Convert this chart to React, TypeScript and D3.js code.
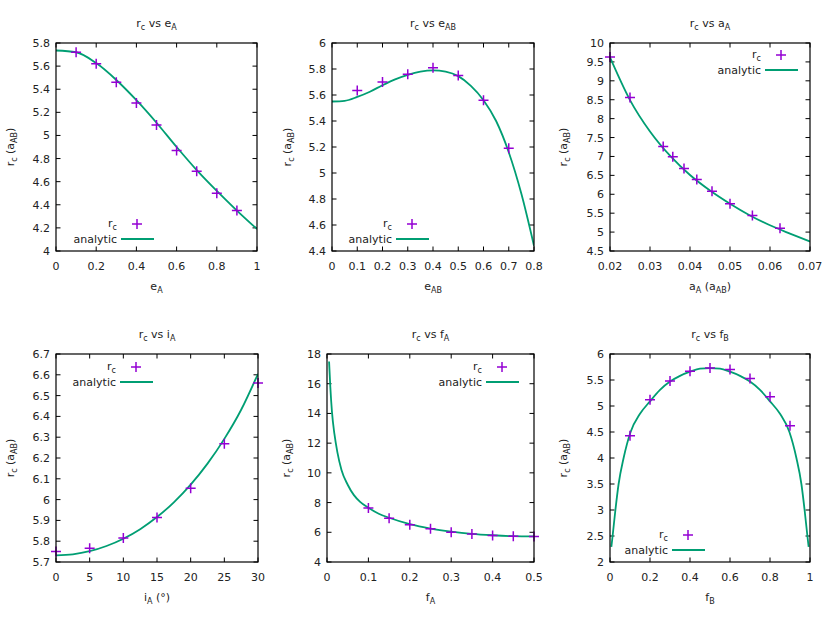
import React from "react";
import * as d3 from "d3";

const width = 830;
const height = 623;
const purple = "#9400d3";
const green = "#009e73";
const font = "DejaVu Sans, sans-serif";

// panel 1: r_c vs e_A
const eA = [0.1, 0.2, 0.3, 0.4, 0.5, 0.6, 0.7, 0.8, 0.9];
const rcEA = [5.72, 5.62, 5.46, 5.28, 5.09, 4.87, 4.69, 4.5, 4.35];
const eACurveX = [0, 0.1, 0.2, 0.3, 0.4, 0.5, 0.6, 0.7, 0.8, 0.9, 1];
const eACurveY = [5.735, 5.72, 5.626, 5.48, 5.305, 5.11, 4.9, 4.7, 4.52, 4.35, 4.19];
const eAXTicks = [0, 0.2, 0.4, 0.6, 0.8, 1];
const eAYTicks = [4, 4.2, 4.4, 4.6, 4.8, 5, 5.2, 5.4, 5.6, 5.8];

// panel 2: r_c vs e_AB
const eAB = [0.1, 0.2, 0.3, 0.4, 0.5, 0.6, 0.7];
const rcEAB = [5.635, 5.7, 5.76, 5.81, 5.75, 5.56, 5.19];
const eABCurveX = [0, 0.05, 0.1, 0.15, 0.2, 0.25, 0.3, 0.35, 0.4, 0.45, 0.5, 0.55, 0.6, 0.65, 0.7, 0.75, 0.8];
const eABCurveY = [5.55, 5.555, 5.585, 5.625, 5.675, 5.72, 5.755, 5.78, 5.79, 5.78, 5.745, 5.67, 5.56, 5.4, 5.16, 4.84, 4.44];
const eABXTicks = [0, 0.1, 0.2, 0.3, 0.4, 0.5, 0.6, 0.7, 0.8];
const eABYTicks = [4.4, 4.6, 4.8, 5, 5.2, 5.4, 5.6, 5.8, 6];

// panel 3: r_c vs a_A
const aA = [0.02, 0.025, 0.0333, 0.0357, 0.0385, 0.0417, 0.0455, 0.05, 0.0556, 0.0625];
const rcAA = [9.63, 8.56, 7.26, 6.99, 6.68, 6.39, 6.08, 5.75, 5.44, 5.1];
const aACurveX = [0.02, 0.025, 0.03, 0.035, 0.04, 0.045, 0.05, 0.055, 0.06, 0.065, 0.07];
const aACurveY = [9.62, 8.49, 7.66, 7.02, 6.51, 6.1, 5.75, 5.44, 5.18, 4.96, 4.75];
const aAXTicks = [0.02, 0.03, 0.04, 0.05, 0.06, 0.07];
const aAYTicks = [4.5, 5, 5.5, 6, 6.5, 7, 7.5, 8, 8.5, 9, 9.5, 10];

// panel 4: r_c vs i_A
const iA = [0, 5, 10, 15, 20, 25, 30];
const rcIA = [5.751, 5.766, 5.815, 5.914, 6.055, 6.268, 6.56];
const iACurveX = [0, 2.5, 5, 7.5, 10, 12.5, 15, 17.5, 20, 22.5, 25, 27.5, 30];
const iACurveY = [5.732, 5.737, 5.752, 5.777, 5.812, 5.858, 5.916, 5.987, 6.072, 6.173, 6.292, 6.432, 6.605];
const iAXTicks = [0, 5, 10, 15, 20, 25, 30];
const iAYTicks = [5.7, 5.8, 5.9, 6, 6.1, 6.2, 6.3, 6.4, 6.5, 6.6, 6.7];

// panel 5: r_c vs f_A
const fA = [0.1, 0.15, 0.2, 0.25, 0.3, 0.35, 0.4, 0.45, 0.5];
const rcFA = [7.63, 6.95, 6.5, 6.23, 6.01, 5.88, 5.79, 5.73, 5.72];
const fACurveX = [0.005, 0.008, 0.012, 0.018, 0.025, 0.035, 0.05, 0.065, 0.08, 0.1, 0.125, 0.15, 0.2, 0.25, 0.3, 0.35, 0.4, 0.45, 0.5];
const fACurveY = [17.5, 15.8, 14.1, 12.6, 11.4, 10.2, 9.2, 8.5, 8.05, 7.65, 7.25, 6.98, 6.55, 6.25, 6.04, 5.89, 5.8, 5.74, 5.72];
const fAXTicks = [0, 0.1, 0.2, 0.3, 0.4, 0.5];
const fAYTicks = [4, 6, 8, 10, 12, 14, 16, 18];

// panel 6: r_c vs f_B
const fB = [0.1, 0.2, 0.3, 0.4, 0.5, 0.6, 0.7, 0.8, 0.9];
const rcFB = [4.43, 5.12, 5.48, 5.67, 5.73, 5.7, 5.53, 5.18, 4.62];
const fBCurveX = [0.0067, 0.013, 0.027, 0.043, 0.068, 0.103, 0.15, 0.2, 0.25, 0.3, 0.35, 0.4, 0.45, 0.5,
  0.55, 0.6, 0.65, 0.7, 0.75, 0.8, 0.85, 0.897, 0.932, 0.957, 0.973, 0.987, 0.9933];
const fBCurveY = [2.29, 2.5, 3.0, 3.5, 4.0, 4.5, 4.85, 5.09, 5.31, 5.47, 5.58, 5.66, 5.72, 5.73,
  5.72, 5.66, 5.58, 5.47, 5.31, 5.09, 4.85, 4.5, 4.0, 3.5, 3.0, 2.5, 2.29];
const fBXTicks = [0, 0.2, 0.4, 0.6, 0.8, 1];
const fBYTicks = [2, 2.5, 3, 3.5, 4, 4.5, 5, 5.5, 6];

type Part = { t: string; sub?: boolean };

const Rich = ({ parts, x, y, anchor = "middle", rotate = false, size = 11 }: any) => {
  let shifted = false;
  return (
    <text
      x={x}
      y={y}
      textAnchor={anchor}
      fontFamily={font}
      fontSize={size}
      fill="#222"
      transform={rotate ? `rotate(-90,${x},${y})` : undefined}
    >
      {parts.map((p: Part, i: number) => {
        let dy = 0;
        if (p.sub && !shifted) { dy = 3; shifted = true; }
        else if (!p.sub && shifted) { dy = -3; shifted = false; }
        return (
          <tspan key={i} dy={dy} fontSize={p.sub ? 8 : size}>{p.t}</tspan>
        );
      })}
    </text>
  );
};

const rc: Part[] = [{ t: "r" }, { t: "c", sub: true }];
const yLab: Part[] = [{ t: "r" }, { t: "c", sub: true }, { t: " (a" }, { t: "AB", sub: true }, { t: ")" }];

const fmt = (v: number) => String(+v.toFixed(6));

const Panel = ({ p }: any) => {
  const x = d3.scaleLinear().domain(p.xDomain).range([p.left, p.right]);
  const y = d3.scaleLinear().domain(p.yDomain).range([p.bottom, p.top]);
  const line = d3.line<number>()
    .x((_, i) => x(p.cx[i]))
    .y((d) => y(d))
    .curve(d3.curveMonotoneX);
  const clipId = `clip-${p.id}`;
  const tl = 4.5;
  const lg = p.legend;
  return (
    <g>
      <defs>
        <clipPath id={clipId}>
          <rect x={p.left} y={p.top} width={p.right - p.left} height={p.bottom - p.top} />
        </clipPath>
      </defs>
      {p.xTicks.map((t: number) => (
        <g key={"x" + t}>
          <line x1={x(t)} x2={x(t)} y1={p.bottom} y2={p.bottom - tl} stroke="#000" />
          <line x1={x(t)} x2={x(t)} y1={p.top} y2={p.top + tl} stroke="#000" />
          <text x={x(t)} y={p.bottom + 19} textAnchor="middle" fontFamily={font} fontSize={11} fill="#222">{fmt(t)}</text>
        </g>
      ))}
      {p.yTicks.map((t: number) => (
        <g key={"y" + t}>
          <line x1={p.left} x2={p.left + tl} y1={y(t)} y2={y(t)} stroke="#000" />
          <line x1={p.right} x2={p.right - tl} y1={y(t)} y2={y(t)} stroke="#000" />
          <text x={p.left - 6} y={y(t) + 4} textAnchor="end" fontFamily={font} fontSize={11} fill="#222">{fmt(t)}</text>
        </g>
      ))}
      <path d={line(p.cy) || ""} fill="none" stroke={green} strokeWidth={1.8} clipPath={`url(#${clipId})`} />
      {p.px.map((v: number, i: number) => (
        <path
          key={i}
          d={`M${x(v) - 5},${y(p.py[i])}h10M${x(v)},${y(p.py[i]) - 5}v10`}
          stroke={purple}
          strokeWidth={1.5}
        />
      ))}
      <rect x={p.left} y={p.top} width={p.right - p.left} height={p.bottom - p.top} fill="none" stroke="#000" strokeWidth={1.2} />
      {/* key */}
      <Rich parts={rc} x={lg.x} y={lg.y + 3} anchor="end" />
      <path d={`M${lg.x + 20 - 5},${lg.y}h10M${lg.x + 20},${lg.y - 5}v10`} stroke={purple} strokeWidth={1.5} />
      <text x={lg.x} y={lg.y + 19} textAnchor="end" fontFamily={font} fontSize={11} fill="#222">analytic</text>
      <line x1={lg.x + 4} x2={lg.x + 37} y1={lg.y + 15} y2={lg.y + 15} stroke={green} strokeWidth={1.8} />
      <Rich parts={p.title} x={(p.left + p.right) / 2} y={p.top - 16} />
      <Rich parts={p.xLabel} x={(p.left + p.right) / 2} y={p.bottom + 39} />
      <Rich parts={yLab} x={p.left - p.yLabOff} y={(p.top + p.bottom) / 2} rotate />
    </g>
  );
};

const panels = [
  {
    id: 1, left: 56, right: 257, top: 43, bottom: 251, xDomain: [0, 1], yDomain: [4, 5.8],
    xTicks: eAXTicks, yTicks: eAYTicks, px: eA, py: rcEA, cx: eACurveX, cy: eACurveY,
    title: [...rc, { t: " vs e" }, { t: "A", sub: true }], xLabel: [{ t: "e" }, { t: "A", sub: true }],
    yLabOff: 42.5, legend: { x: 117, y: 224 },
  },
  {
    id: 2, left: 332, right: 534, top: 43, bottom: 251, xDomain: [0, 0.8], yDomain: [4.4, 6],
    xTicks: eABXTicks, yTicks: eABYTicks, px: eAB, py: rcEAB, cx: eABCurveX, cy: eABCurveY,
    title: [...rc, { t: " vs e" }, { t: "AB", sub: true }], xLabel: [{ t: "e" }, { t: "AB", sub: true }],
    yLabOff: 41, legend: { x: 392, y: 224 },
  },
  {
    id: 3, left: 610, right: 810, top: 43, bottom: 251, xDomain: [0.02, 0.07], yDomain: [4.5, 10],
    xTicks: aAXTicks, yTicks: aAYTicks, px: aA, py: rcAA, cx: aACurveX, cy: aACurveY,
    title: [...rc, { t: " vs a" }, { t: "A", sub: true }],
    xLabel: [{ t: "a" }, { t: "A", sub: true }, { t: " (a" }, { t: "AB", sub: true }, { t: ")" }],
    yLabOff: 43, legend: { x: 761, y: 55 },
  },
  {
    id: 4, left: 56, right: 258, top: 354, bottom: 562, xDomain: [0, 30], yDomain: [5.7, 6.7],
    xTicks: iAXTicks, yTicks: iAYTicks, px: iA, py: rcIA, cx: iACurveX, cy: iACurveY,
    title: [...rc, { t: " vs i" }, { t: "A", sub: true }],
    xLabel: [{ t: "i" }, { t: "A", sub: true }, { t: " (°)" }],
    yLabOff: 42.5, legend: { x: 116, y: 367 },
  },
  {
    id: 5, left: 327, right: 534, top: 354, bottom: 562, xDomain: [0, 0.5], yDomain: [4, 18],
    xTicks: fAXTicks, yTicks: fAYTicks, px: fA, py: rcFA, cx: fACurveX, cy: fACurveY,
    title: [...rc, { t: " vs f" }, { t: "A", sub: true }], xLabel: [{ t: "f" }, { t: "A", sub: true }],
    yLabOff: 37, legend: { x: 482, y: 367 },
  },
  {
    id: 6, left: 610, right: 810, top: 354, bottom: 562, xDomain: [0, 1], yDomain: [2, 6],
    xTicks: fBXTicks, yTicks: fBYTicks, px: fB, py: rcFB, cx: fBCurveX, cy: fBCurveY,
    title: [...rc, { t: " vs f" }, { t: "B", sub: true }], xLabel: [{ t: "f" }, { t: "B", sub: true }],
    yLabOff: 43, legend: { x: 668, y: 535 },
  },
];

export default function App() {
  return (
    <svg
      width={width}
      height={height}
      style={{ position: "absolute", left: 0, top: 0, background: "#fff" }}
    >
      <rect width={width} height={height} fill="#fff" />
      {panels.map((p) => (
        <Panel key={p.id} p={p} />
      ))}
    </svg>
  );
}
